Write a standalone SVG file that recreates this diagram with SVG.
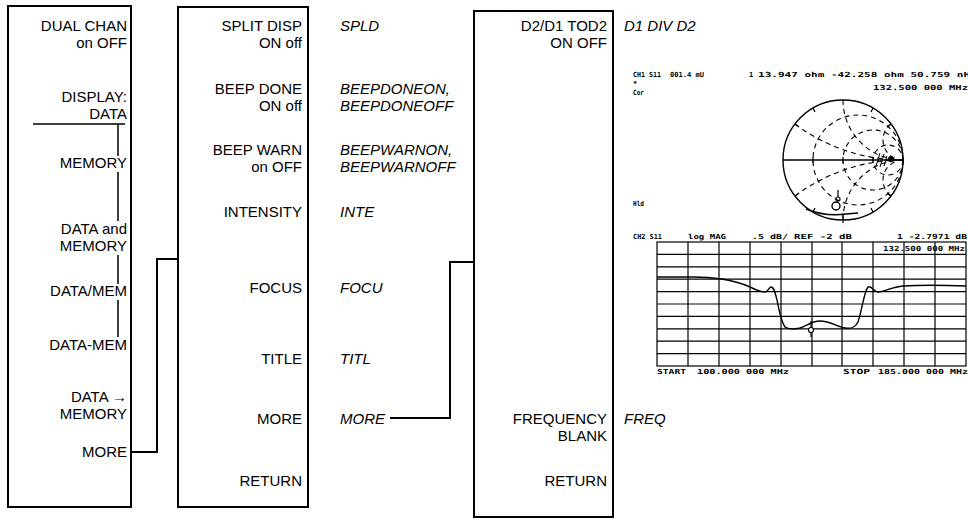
<svg xmlns="http://www.w3.org/2000/svg" width="968" height="523" viewBox="0 0 968 523">
<style>
  .box { fill: #fff; stroke: #000; stroke-width: 2; }
  .lbl { font-family: "Liberation Sans", Arial, sans-serif; font-size: 15px; text-anchor: end; fill: #000; }
  .cmd { font-family: "Liberation Sans", Arial, sans-serif; font-size: 15px; font-style: italic; text-anchor: start; fill: #000; }
  .conn { fill: none; stroke: #000; stroke-width: 2; }
  .thin { fill: none; stroke: #000; stroke-width: 1.5; }
  .scr { font-family: "DejaVu Sans Mono", "Liberation Mono", monospace; font-size: 7px; font-weight: bold; fill: #000; }
  .grid { fill: none; stroke: #000; stroke-width: 1.2; }
  .dash { fill: none; stroke: #000; stroke-width: 1.1; stroke-dasharray: 5 4; }
</style>
<rect width="968" height="523" fill="#fff"/>

<g id="connectors">
  <polyline class="conn" points="131,452 157,452 157,259 178,259"/>
  <polyline class="conn" points="390,418 450,418 450,262 474,262"/>
</g>

<g id="menu-display">
  <rect class="box" x="8" y="6" width="123" height="501"/>
  <text class="lbl" x="127" y="31">DUAL CHAN</text>
  <text class="lbl" x="127" y="48">on OFF</text>
  <text class="lbl" x="127" y="102">DISPLAY:</text>
  <text class="lbl" x="127" y="119">DATA</text>
  <line class="thin" x1="33" y1="124" x2="125" y2="124"/>
  <g class="thin">
    <line x1="118" y1="124" x2="118" y2="156"/>
    <line x1="118" y1="172" x2="118" y2="221"/>
    <line x1="118" y1="255" x2="118" y2="284"/>
    <line x1="118" y1="300" x2="118" y2="337"/>
  </g>
  <text class="lbl" x="127" y="168">MEMORY</text>
  <text class="lbl" x="127" y="234">DATA and</text>
  <text class="lbl" x="127" y="251">MEMORY</text>
  <text class="lbl" x="127" y="296">DATA/MEM</text>
  <text class="lbl" x="127" y="350">DATA-MEM</text>
  <text class="lbl" x="127" y="402">DATA →</text>
  <text class="lbl" x="127" y="419">MEMORY</text>
  <text class="lbl" x="127" y="457">MORE</text>
</g>

<g id="menu-display-more">
  <rect class="box" x="178" y="7" width="130" height="500"/>
  <text class="lbl" x="302" y="31">SPLIT DISP</text>
  <text class="lbl" x="302" y="48">ON off</text>
  <text class="lbl" x="302" y="94">BEEP DONE</text>
  <text class="lbl" x="302" y="111">ON off</text>
  <text class="lbl" x="302" y="155">BEEP WARN</text>
  <text class="lbl" x="302" y="172">on OFF</text>
  <text class="lbl" x="302" y="217">INTENSITY</text>
  <text class="lbl" x="302" y="293">FOCUS</text>
  <text class="lbl" x="302" y="364">TITLE</text>
  <text class="lbl" x="302" y="424">MORE</text>
  <text class="lbl" x="302" y="486">RETURN</text>
  <text class="cmd" x="340" y="31">SPLD</text>
  <text class="cmd" x="340" y="94">BEEPDONEON,</text>
  <text class="cmd" x="340" y="111">BEEPDONEOFF</text>
  <text class="cmd" x="340" y="155">BEEPWARNON,</text>
  <text class="cmd" x="340" y="172">BEEPWARNOFF</text>
  <text class="cmd" x="340" y="217">INTE</text>
  <text class="cmd" x="340" y="293">FOCU</text>
  <text class="cmd" x="340" y="364">TITL</text>
  <text class="cmd" x="340" y="424">MORE</text>
</g>

<g id="menu-display-more2">
  <rect class="box" x="474" y="11" width="139" height="506"/>
  <text class="lbl" x="607" y="31">D2/D1 TOD2</text>
  <text class="lbl" x="607" y="48">ON OFF</text>
  <text class="lbl" x="607" y="424">FREQUENCY</text>
  <text class="lbl" x="607" y="441">BLANK</text>
  <text class="lbl" x="607" y="486">RETURN</text>
  <text class="cmd" x="624" y="31">D1 DIV D2</text>
  <text class="cmd" x="624" y="424">FREQ</text>
</g>

<g id="screen">
  <text class="scr" x="633" y="77" textLength="28" lengthAdjust="spacingAndGlyphs">CH1 S11</text>
  <text class="scr" x="670" y="77" textLength="34" lengthAdjust="spacingAndGlyphs">001.4 mU</text>
  <text class="scr" x="749" y="77">1</text>
  <text class="scr" x="758" y="77" textLength="212" lengthAdjust="spacingAndGlyphs">13.947 ohm -42.258 ohm 50.759 nH</text>
  <text class="scr" x="873" y="90" textLength="95" lengthAdjust="spacingAndGlyphs">132.500 000 MHz</text>
  <text class="scr" x="633" y="86">*</text>
  <text class="scr" x="633" y="95" textLength="11" lengthAdjust="spacingAndGlyphs">Cor</text>
  <text class="scr" x="633" y="206" textLength="11" lengthAdjust="spacingAndGlyphs">Hld</text>

  <g id="smith">
    <circle cx="843" cy="160" r="60" fill="none" stroke="#000" stroke-width="1.4"/>
    <line x1="783" y1="160" x2="903" y2="160" stroke="#000" stroke-width="1.3"/>
    <g stroke="#000" stroke-width="1.2">
      <line x1="813" y1="157" x2="813" y2="163"/>
      <line x1="843" y1="157" x2="843" y2="163"/>
      <line x1="873" y1="157" x2="873" y2="163"/>
      <line x1="795" y1="124" x2="799" y2="127"/>
      <line x1="795" y1="196" x2="799" y2="193"/>
      <line x1="891" y1="124" x2="887" y2="127"/>
      <line x1="891" y1="196" x2="887" y2="193"/>
      <line x1="813" y1="108" x2="815" y2="112"/>
      <line x1="873" y1="108" x2="871" y2="112"/>
      <line x1="813" y1="212" x2="815" y2="208"/>
      <line x1="873" y1="212" x2="871" y2="208"/>
      <line x1="843" y1="214" x2="843" y2="223"/>
    </g>
    <circle class="dash" cx="858" cy="160" r="45"/>
    <circle class="dash" cx="873" cy="160" r="30"/>
    <circle class="dash" cx="888" cy="160" r="15"/>
    <path class="dash" d="M843,100 A60,60 0 0 0 903,160"/>
    <path class="dash" d="M843,220 A60,60 0 0 1 903,160"/>
    <path class="dash" d="M795,124 A180,180 0 0 0 903,160"/>
    <path class="dash" d="M795,196 A180,180 0 0 1 903,160"/>
    <path class="dash" d="M891,124 A20,20 0 0 0 903,160"/>
    <path class="dash" d="M891,196 A20,20 0 0 1 903,160"/>
    <circle cx="891" cy="159" r="3" fill="#000"/>
    <path d="M876,166 L880,153 M880,167 L884,154 M884,166 L887,156" stroke="#000" stroke-width="1" fill="none"/>
    <path d="M806,209 Q826,217 846,214 L858,213" stroke="#000" stroke-width="1.4" fill="none"/>
    <line x1="838" y1="190" x2="838" y2="197" stroke="#000" stroke-width="1.2"/>
    <circle cx="838" cy="199" r="2" fill="none" stroke="#000" stroke-width="1.2"/>
    <circle cx="836" cy="206" r="4" fill="none" stroke="#000" stroke-width="1.4"/>
  </g>

  <text class="scr" x="633" y="239" textLength="29" lengthAdjust="spacingAndGlyphs">CH2 S11</text>
  <text class="scr" x="688" y="239" textLength="38" lengthAdjust="spacingAndGlyphs">log MAG</text>
  <text class="scr" x="752" y="239" textLength="36" lengthAdjust="spacingAndGlyphs">.5 dB/</text>
  <text class="scr" x="794" y="239" textLength="58" lengthAdjust="spacingAndGlyphs">REF -2 dB</text>
  <text class="scr" x="897" y="239" textLength="70" lengthAdjust="spacingAndGlyphs">1 -2.7971 dB</text>

  <g id="loggrid" class="grid">
    <rect x="657" y="242" width="309" height="124"/>
    <line x1="688" y1="242" x2="688" y2="366"/>
    <line x1="719" y1="242" x2="719" y2="366"/>
    <line x1="750" y1="242" x2="750" y2="366"/>
    <line x1="781" y1="242" x2="781" y2="366"/>
    <line x1="812" y1="242" x2="812" y2="366"/>
    <line x1="842" y1="242" x2="842" y2="366"/>
    <line x1="873" y1="242" x2="873" y2="366"/>
    <line x1="904" y1="242" x2="904" y2="366"/>
    <line x1="935" y1="242" x2="935" y2="366"/>
    <line x1="657" y1="254.4" x2="966" y2="254.4"/>
    <line x1="657" y1="266.8" x2="966" y2="266.8"/>
    <line x1="657" y1="279.2" x2="966" y2="279.2"/>
    <line x1="657" y1="291.6" x2="966" y2="291.6"/>
    <line x1="657" y1="304" x2="966" y2="304"/>
    <line x1="657" y1="316.4" x2="966" y2="316.4"/>
    <line x1="657" y1="328.8" x2="966" y2="328.8"/>
    <line x1="657" y1="341.2" x2="966" y2="341.2"/>
    <line x1="657" y1="353.6" x2="966" y2="353.6"/>
  </g>
  <text class="scr" x="883" y="251" textLength="82" lengthAdjust="spacingAndGlyphs">132.500 000 MHz</text>
  <path d="M657,277 L693,277 C705,277 715,278 722,279 C733,281 742,283 750,287 C756,290 760,292 765,292 C768,292 769,287 771,287 C774,287 775,292 777,300 C779,310 781,322 785,327 C789,330 795,329 800,328 C806,326 812,321 820,321 C830,321 838,327 845,328 C851,329 855,328 858,322 C862,310 864,292 868,287 C871,285 874,292 878,292 C883,292 892,287 903,286 C920,285 940,285 966,286" fill="none" stroke="#000" stroke-width="1.4"/>
  <line x1="811" y1="321" x2="811" y2="337" stroke="#000" stroke-width="1.2"/>
  <circle cx="811" cy="330" r="2.5" fill="#fff" stroke="#000" stroke-width="1.2"/>
  <text class="scr" x="657" y="374" textLength="29" lengthAdjust="spacingAndGlyphs">START</text>
  <text class="scr" x="697" y="374" textLength="92" lengthAdjust="spacingAndGlyphs">100.000 000 MHz</text>
  <text class="scr" x="843" y="374" textLength="27" lengthAdjust="spacingAndGlyphs">STOP</text>
  <text class="scr" x="878" y="374" textLength="90" lengthAdjust="spacingAndGlyphs">185.000 000 MHz</text>
</g>
</svg>
